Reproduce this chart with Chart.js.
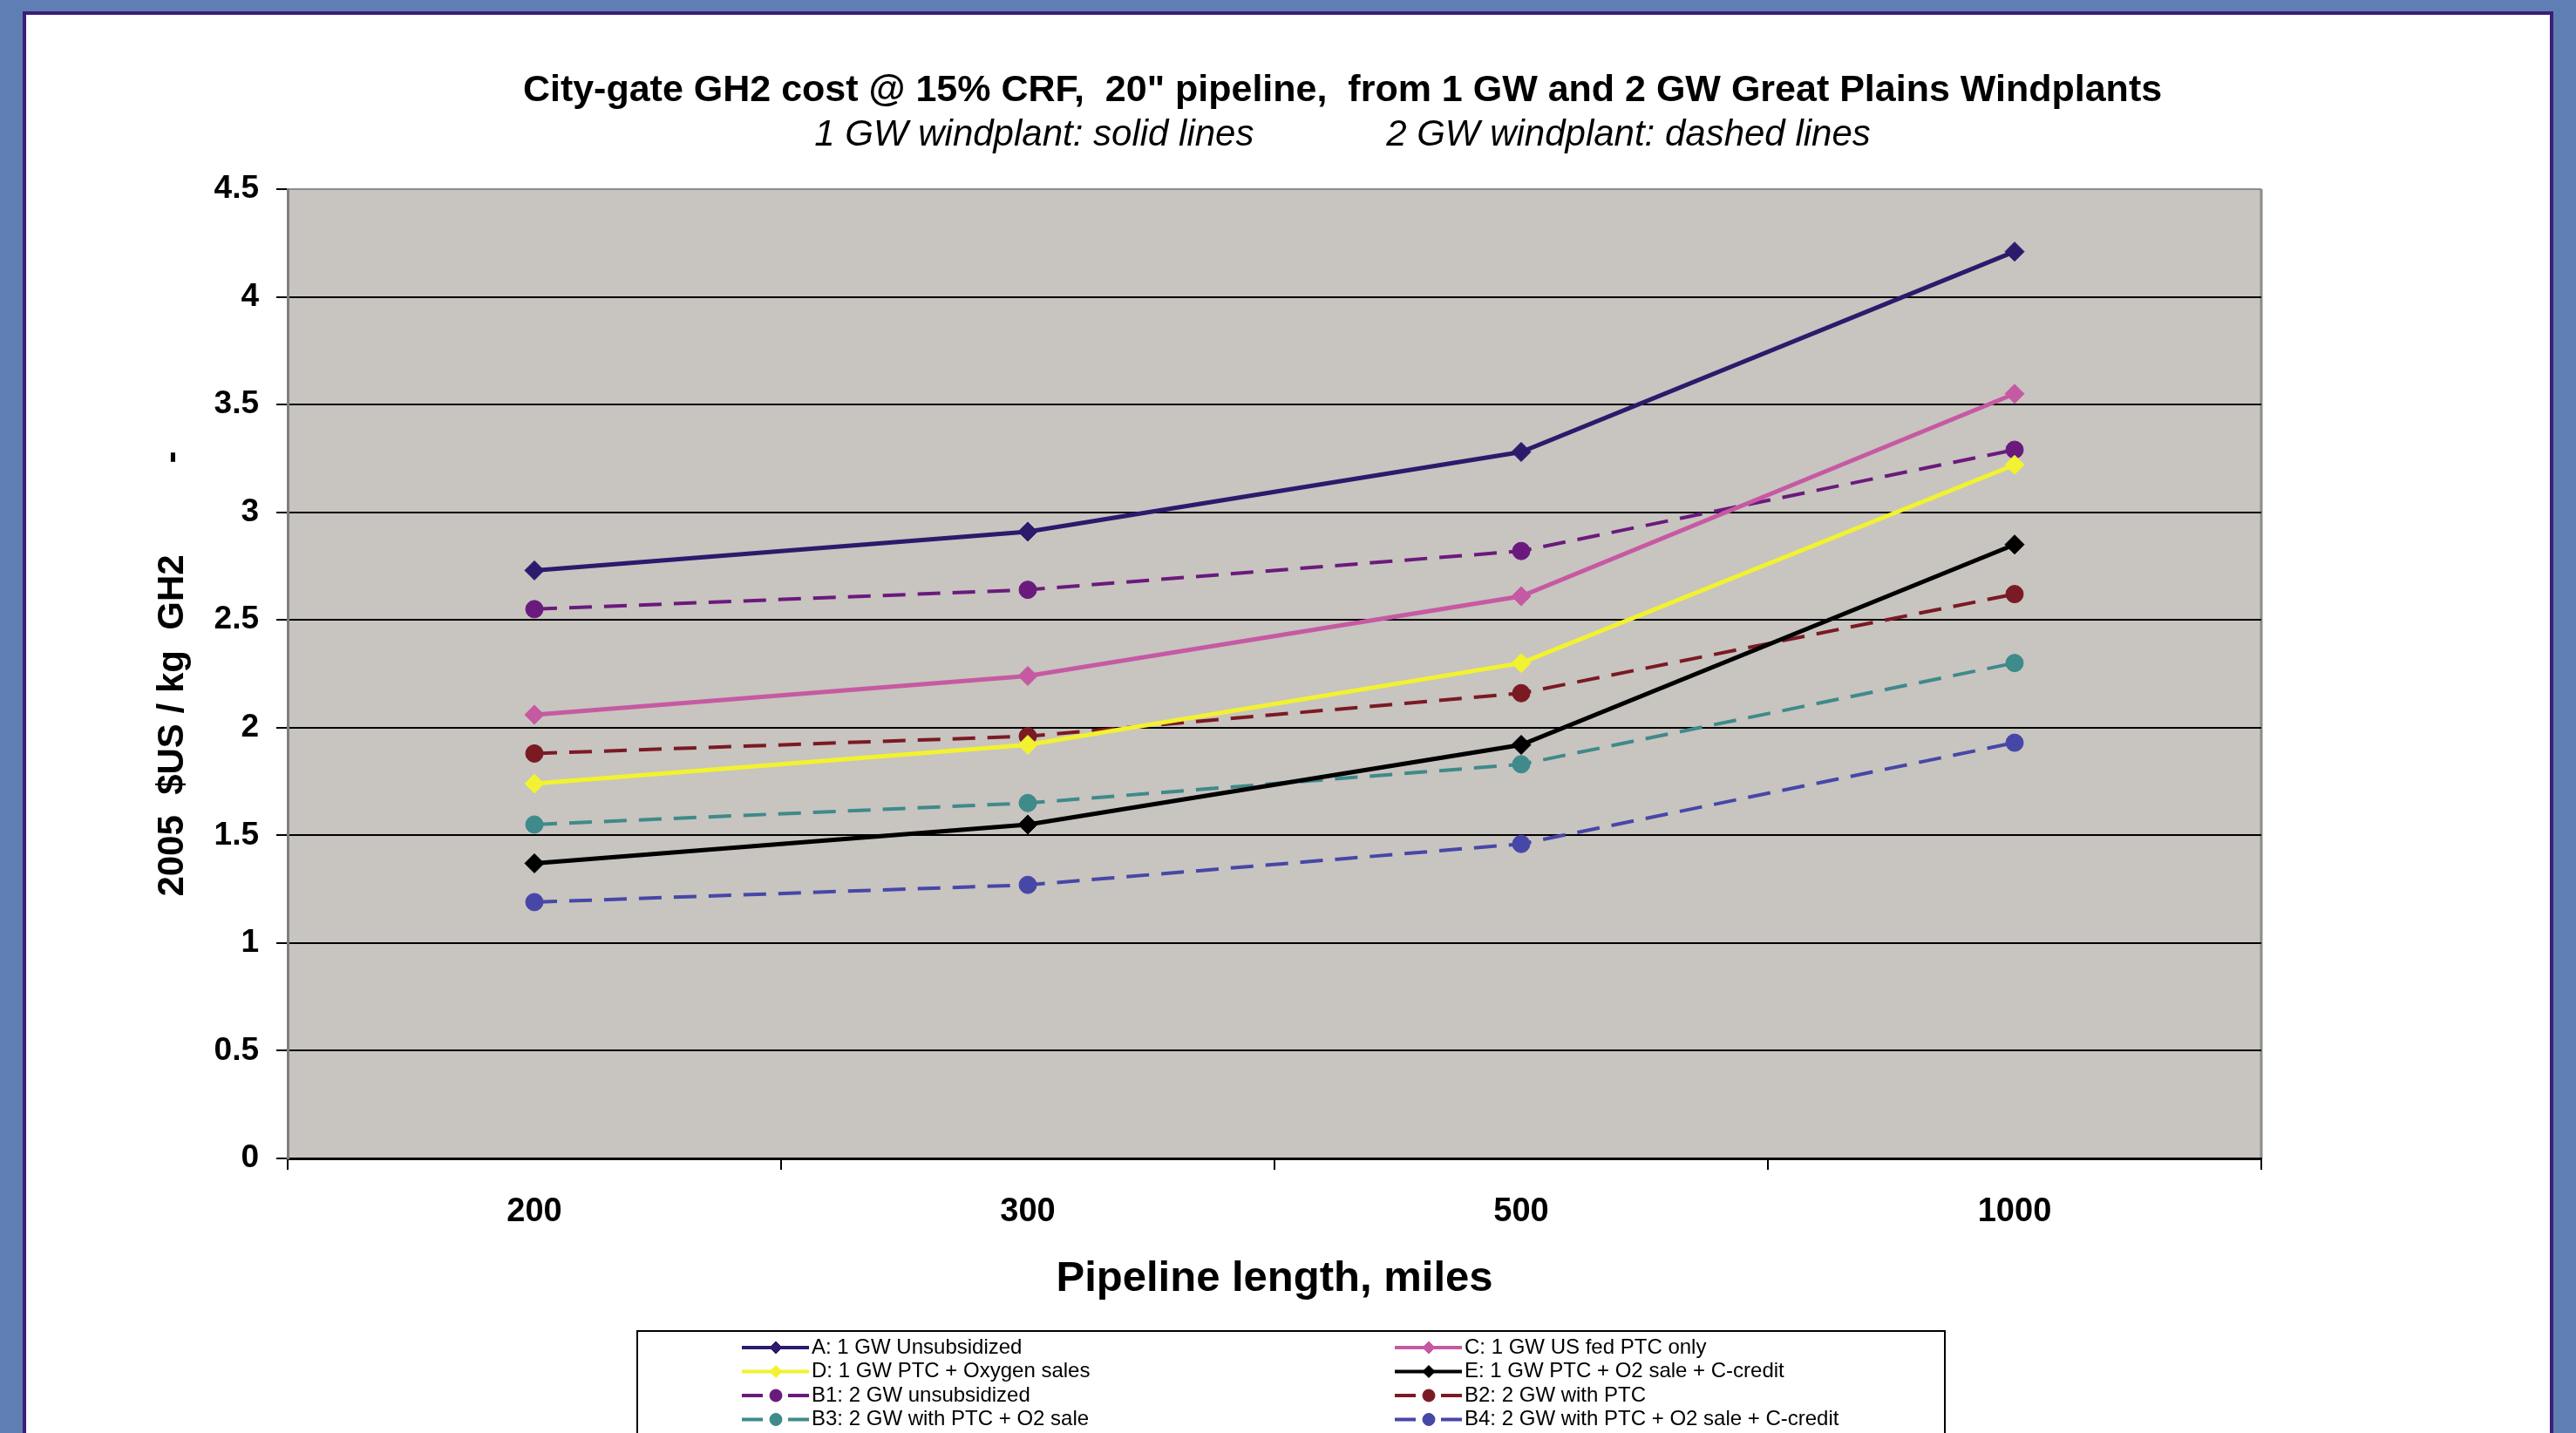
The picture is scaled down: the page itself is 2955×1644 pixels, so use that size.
<!DOCTYPE html>
<html>
<head>
<meta charset="utf-8">
<script src="https://cdn.jsdelivr.net/npm/chart.js@4/dist/chart.umd.min.js"></script>
<style>
  body { margin: 0; background: #5f7eb3; width: 2955px; height: 1644px; overflow: hidden; }
  #frame { position: absolute; left: 26px; top: 13px; width: 2895px; height: 1700px; border: 4px solid #3b1f76; background: #fff; overflow: hidden; }
  #chart { position: absolute; left: 0; top: 0; }
</style>
</head>
<body>
<div id="frame"><canvas id="chart" width="3020" height="1627"></canvas></div>
<script>
// pipeline lengths (miles) and city-gate cost, 2005 $US / kg GH2
const lengths = ['200', '300', '500', '1000']
const costA = [2.73, 2.91, 3.28, 4.21]
const costC = [2.06, 2.24, 2.61, 3.55]
const costD = [1.74, 1.92, 2.30, 3.22]
const costE = [1.37, 1.55, 1.92, 2.85]
const costB1 = [2.55, 2.64, 2.82, 3.29]
const costB2 = [1.88, 1.96, 2.16, 2.62]
const costB3 = [1.55, 1.65, 1.83, 2.30]
const costB4 = [1.19, 1.27, 1.46, 1.93]
const yMin = 0
const yMax = 4.5
const yStep = 0.5

const FONT = 'Liberation Sans, Arial, sans-serif'
Chart.defaults.font.family = FONT

// 1 GW windplant: solid lines, diamonds
function solid(label, data, color) {
    return {
        label: label, data: data,
        borderColor: color, backgroundColor: color,
        borderWidth: 5, borderDash: [],
        pointStyle: 'rectRot', pointRadius: 11, pointBorderWidth: 1,
        pointBackgroundColor: color, pointBorderColor: color
    }
}

// 2 GW windplant: dashed lines, circles
function dashed(label, data, color) {
    return {
        label: label, data: data,
        borderColor: color, backgroundColor: color,
        borderWidth: 4, borderDash: [26, 14],
        pointStyle: 'circle', pointRadius: 10, pointBorderWidth: 1,
        pointBackgroundColor: color, pointBorderColor: color
    }
}

const plotBackground = {
    id: 'plotBackground',
    beforeDraw(chart) {
        const {ctx, chartArea: a} = chart
        ctx.save()
        ctx.fillStyle = '#c8c4c0'
        ctx.fillRect(a.left, a.top, a.right - a.left, a.bottom - a.top)
        ctx.strokeStyle = '#8c8c8c'
        ctx.lineWidth = 3
        ctx.beginPath()
        ctx.moveTo(a.right, a.top)
        ctx.lineTo(a.right, a.bottom)
        ctx.stroke()
        ctx.restore()
    }
}

// boxed two-column legend like the Excel one
const boxLegend = {
    id: 'boxLegend',
    afterDraw(chart) {
        const ctx = chart.ctx
        ctx.save()
        ctx.strokeStyle = '#000'
        ctx.lineWidth = 2
        ctx.strokeRect(701, 1510, 1500, 200)
        ctx.font = '24px ' + FONT
        ctx.textBaseline = 'middle'
        chart.data.datasets.forEach((ds, i) => {
            const x = i % 2 ? 1570 : 821
            const y = 1529 + Math.floor(i / 2) * 27.5
            ctx.strokeStyle = ds.borderColor
            ctx.fillStyle = ds.borderColor
            ctx.lineWidth = 4
            ctx.beginPath()
            if (ds.borderDash.length) {
                ctx.moveTo(x, y); ctx.lineTo(x + 24, y)
                ctx.moveTo(x + 53, y); ctx.lineTo(x + 77, y)
            } else {
                ctx.moveTo(x, y); ctx.lineTo(x + 77, y)
            }
            ctx.stroke()
            ctx.lineWidth = 1
            Chart.helpers.drawPoint(ctx, {pointStyle: ds.pointStyle, radius: 7, rotation: 0, borderWidth: 1}, x + 39, y)
            ctx.fillStyle = '#000'
            ctx.fillText(ds.label, x + 80, y)
        })
        ctx.restore()
    }
}

const chart = new Chart(document.getElementById('chart'), {
    type: 'line',
    data: {
        labels: lengths,
        datasets: [
            solid('A: 1 GW Unsubsidized', costA, '#2c1a6c'),
            solid('C: 1 GW US fed PTC only', costC, '#c65aa2'),
            solid('D: 1 GW PTC + Oxygen sales', costD, '#f2f230'),
            solid('E: 1 GW PTC + O2 sale + C-credit', costE, '#000000'),
            dashed('B1: 2 GW unsubsidized', costB1, '#6a1a7c'),
            dashed('B2: 2 GW with PTC', costB2, '#7a1a22'),
            dashed('B3: 2 GW with PTC + O2 sale', costB3, '#3f8a8a'),
            dashed('B4: 2 GW with PTC + O2 sale + C-credit', costB4, '#4747a8')
        ]
    },
    options: {
        responsive: false,
        animation: false,
        layout: {padding: {top: 0, left: 0, right: 0, bottom: 125}},
        elements: {line: {tension: 0}},
        plugins: {
            legend: {display: false},
            tooltip: {enabled: false},
            title: {
                display: true,
                text: 'City-gate GH2 cost @ 15% CRF,  20" pipeline,  from 1 GW and 2 GW Great Plains Windplants',
                color: '#000',
                font: {size: 43, weight: 'bold'},
                padding: {top: 61, bottom: 0}
            },
            subtitle: {
                display: true,
                text: '1 GW windplant: solid lines             2 GW windplant: dashed lines',
                color: '#000',
                font: {size: 42, style: 'italic', weight: 'normal'},
                padding: {top: 1, bottom: 36}
            }
        },
        scales: {
            x: {
                offset: true,
                ticks: {padding: 26, color: '#000', font: {size: 38, weight: 'bold'}},
                grid: {offset: true, drawOnChartArea: false, tickLength: 13, color: '#000', lineWidth: 2},
                border: {color: '#000', width: 3},
                title: {
                    display: true, text: 'Pipeline length, miles', color: '#000',
                    font: {size: 49, weight: 'bold'}, padding: {top: 0, bottom: 22}
                },
                afterFit: s => { s.height = 190 }
            },
            y: {
                min: yMin,
                max: yMax,
                ticks: {
                    stepSize: yStep, padding: 20, color: '#000', font: {size: 37, weight: 'bold'},
                    callback: v => String(v)
                },
                grid: {
                    color: c => (c.tick && c.tick.value === yMax) ? '#8c8c8c' : '#000',
                    tickColor: '#000', lineWidth: 2, tickLength: 13
                },
                border: {color: '#7f7f7f', width: 3},
                title: {
                    display: true, text: '2005  $US / kg  GH2         -', color: '#000',
                    font: {size: 42, weight: 'bold'}, padding: {top: 143, bottom: 0}
                },
                afterFit: s => { s.width = 300 }
            },
            // empty right-hand box so the title centres where the original does
            spacer: {
                type: 'linear', position: 'right',
                ticks: {display: false}, grid: {display: false}, border: {display: false},
                afterFit: s => { s.width = 456 }
            }
        }
    },
    plugins: [plotBackground, boxLegend]
})
</script>
</body>
</html>
